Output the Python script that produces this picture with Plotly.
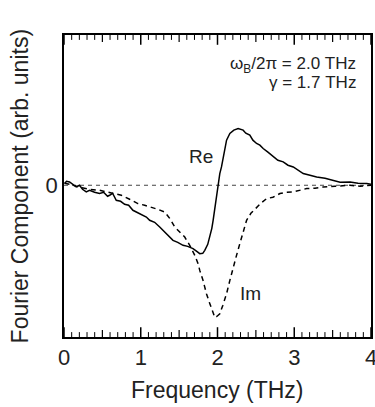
import plotly.graph_objects as go

# Frequency (THz) and Fourier component (arb. units)
re_freq = [0.007, 0.033, 0.072, 0.111, 0.159, 0.202, 0.241, 0.290, 0.333, 0.398, 0.463, 0.516,
           0.568, 0.594, 0.633, 0.681, 0.738, 0.790, 0.842, 0.898, 0.985, 1.073, 1.116, 1.181,
           1.247, 1.312, 1.377, 1.420, 1.482, 1.551, 1.612, 1.681, 1.730, 1.769, 1.808, 1.834,
           1.873, 1.899, 1.926, 1.943, 1.965, 1.987, 2.010, 2.030, 2.052, 2.073, 2.095, 2.118,
           2.161, 2.213, 2.269, 2.304, 2.334, 2.369, 2.421, 2.461, 2.509, 2.552, 2.595, 2.657,
           2.726, 2.787, 2.856, 2.918, 2.987, 3.048, 3.117, 3.205, 3.292, 3.401, 3.509, 3.597,
           3.727, 3.831, 3.945, 4.0]
re_vals = [0.017, 0.040, 0.033, 0.010, -0.017, 0.000, -0.040, -0.067, -0.050, -0.070, -0.083, -0.070,
           -0.110, -0.100, -0.080, -0.150, -0.160, -0.190, -0.200, -0.250, -0.280, -0.317, -0.350, -0.370,
           -0.417, -0.470, -0.520, -0.550, -0.570, -0.600, -0.610, -0.633, -0.660, -0.683, -0.680, -0.650,
           -0.590, -0.517, -0.430, -0.350, -0.220, -0.083, 0.030, 0.117, 0.183, 0.270, 0.370, 0.450,
           0.517, 0.550, 0.567, 0.560, 0.550, 0.520, 0.500, 0.450, 0.417, 0.400, 0.367, 0.330,
           0.283, 0.250, 0.233, 0.200, 0.183, 0.150, 0.117, 0.100, 0.083, 0.070, 0.050, 0.030,
           0.033, 0.020, 0.017, 0.010]

im_freq = [0.007, 0.072, 0.202, 0.333, 0.463, 0.594, 0.747, 0.855, 0.963, 1.051, 1.138, 1.221,
           1.312, 1.377, 1.443, 1.508, 1.573, 1.638, 1.704, 1.747, 1.769, 1.812, 1.856, 1.899,
           1.943, 1.965, 1.991, 2.030, 2.069, 2.118, 2.161, 2.204, 2.248, 2.291, 2.334, 2.379,
           2.435, 2.509, 2.565, 2.640, 2.722, 2.813, 2.892, 2.987, 3.074, 3.162, 3.270, 3.379,
           3.531, 3.727, 3.858, 4.0]
im_vals = [0.020, 0.010, -0.020, -0.040, -0.050, -0.070, -0.100, -0.140, -0.183, -0.200, -0.217, -0.240,
           -0.267, -0.330, -0.417, -0.470, -0.517, -0.600, -0.700, -0.783, -0.850, -0.950, -1.083, -1.180,
           -1.283, -1.320, -1.310, -1.283, -1.200, -1.083, -0.950, -0.817, -0.700, -0.583, -0.480, -0.350,
           -0.280, -0.217, -0.180, -0.133, -0.120, -0.083, -0.070, -0.067, -0.050, -0.033, -0.030, -0.017,
           -0.010, 0.000, -0.010, 0.000]

x_major_ticks = [0, 1, 2, 3, 4]
x_major_labels = ["0", "1", "2", "3", "4"]
x_mid_ticks = [0.5, 1.5, 2.5, 3.5]
x_minor_step = 0.1
x_range = [0, 4]
y_range = [-1.515, 1.50]

FONT = "Liberation Sans, Arial, sans-serif"

# minor tick positions (every 0.1 THz, skipping the labelled / half positions)
n_minor = int(round((x_range[1] - x_range[0]) / x_minor_step))
x_minor_ticks = [round(x_range[0] + i * x_minor_step, 3) for i in range(n_minor + 1)
                 if i % 5 != 0]

fig = go.Figure(layout=dict(template="none"))
fig.add_trace(go.Scatter(x=[0, 4], y=[0, 0], mode="lines",
                         line=dict(color="#444444", width=1, dash="4px,4px"),
                         hoverinfo="skip", showlegend=False))
fig.add_trace(go.Scatter(x=im_freq, y=im_vals, mode="lines",
                         line=dict(color="black", width=1.5, dash="5px,4px"),
                         showlegend=False))
fig.add_trace(go.Scatter(x=re_freq, y=re_vals, mode="lines",
                         line=dict(color="black", width=1.5),
                         showlegend=False))

# inward tick marks on bottom and top frame (markers clipped to the plot area,
# so only the inner half of each vertical line marker shows)
for ticks, size, w in ((x_major_ticks, 14, 1.5), (x_mid_ticks, 10, 1.2), (x_minor_ticks, 7, 1)):
    for yedge in (y_range[0], y_range[1]):
        fig.add_trace(go.Scatter(x=ticks, y=[yedge] * len(ticks), mode="markers",
                                 marker=dict(symbol="line-ns", size=size,
                                             line=dict(color="black", width=w)),
                                 cliponaxis=True, hoverinfo="skip", showlegend=False))

fig.update_layout(
    autosize=False,
    width=375, height=407,
    margin=dict(l=64, r=4, t=35, b=70, autoexpand=False),
    paper_bgcolor="white", plot_bgcolor="white",
    font=dict(family=FONT, color="#222222"),
    showlegend=False,
    xaxis=dict(range=x_range, tickmode="array", tickvals=x_major_ticks, ticktext=x_major_labels,
               ticks="", showline=True, linecolor="black", linewidth=1.5, mirror=True,
               showgrid=False, zeroline=False,
               tickfont=dict(size=22, family=FONT, color="#222222"),
               ticklabeloverflow="allow", automargin=False),
    yaxis=dict(range=y_range, tickmode="array", tickvals=[0], ticktext=["0"], ticks="",
               showline=True, linecolor="black", linewidth=1.5, mirror=True,
               showgrid=False, zeroline=False, automargin=False,
               tickfont=dict(size=22, family=FONT, color="#222222")),
)

ann = [
    dict(text="ω<sub>B</sub>/2π = 2.0 THz", xref="paper", yref="paper", x=0.958, y=0.902,
         xanchor="right", yanchor="middle", showarrow=False, font=dict(size=17)),
    dict(text="γ = 1.7 THz", xref="paper", yref="paper", x=0.958, y=0.843,
         xanchor="right", yanchor="middle", showarrow=False, font=dict(size=17)),
    dict(text="Re", x=1.789, y=0.285, xanchor="center", yanchor="middle",
         showarrow=False, font=dict(size=19)),
    dict(text="Im", x=2.435, y=-1.08, xanchor="center", yanchor="middle",
         showarrow=False, font=dict(size=19)),
    dict(text="Fourier Component (arb. units)", xref="paper", yref="paper",
         x=-0.142, y=0.5, textangle=-90, xanchor="center", yanchor="middle",
         showarrow=False, font=dict(size=23)),
    dict(text="Frequency (THz)", xref="paper", yref="paper", x=0.5, y=-0.174,
         xanchor="center", yanchor="middle", showarrow=False, font=dict(size=23)),
]
fig.update_layout(annotations=ann)

fig.write_html("out.html", config={"displayModeBar": False, "responsive": False},
               post_script="document.body.style.margin='0';")
